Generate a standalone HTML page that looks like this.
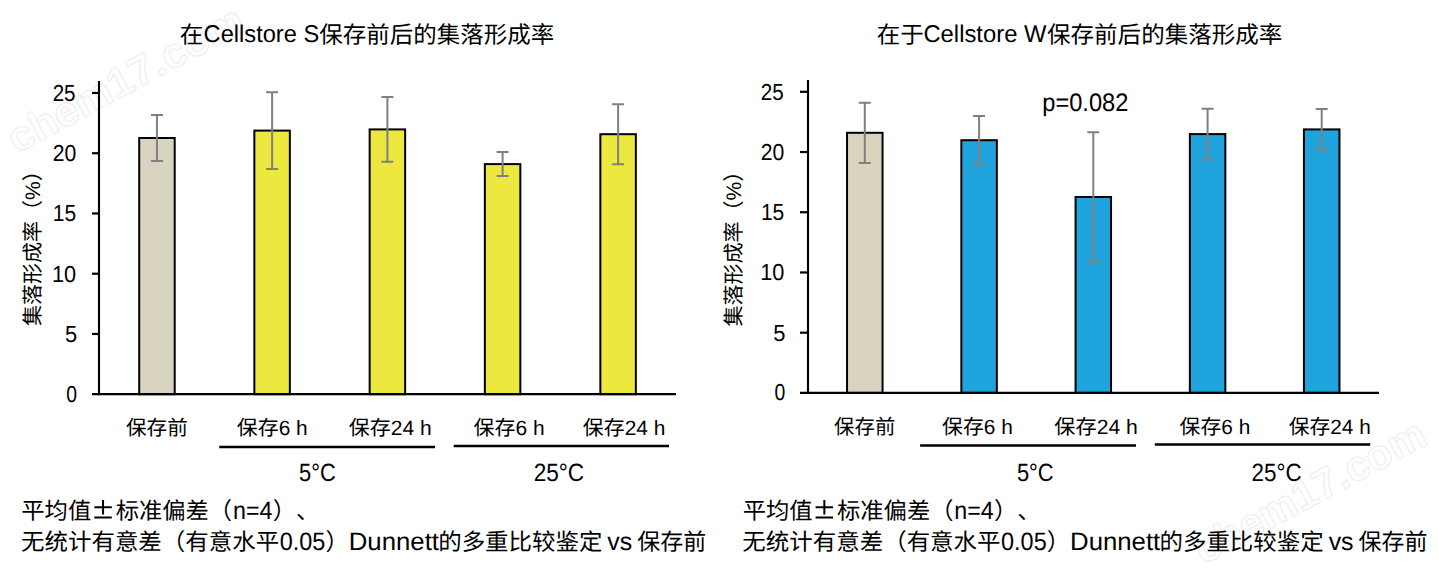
<!DOCTYPE html>
<html lang="zh-CN"><head><meta charset="utf-8"><style>
html,body{margin:0;padding:0;background:#fff;overflow:hidden;}
svg{display:block;}
text{font-family:"Liberation Sans",sans-serif;fill:#000;text-spacing-trim:space-all;font-kerning:none;text-rendering:geometricPrecision;}
.xl{font-size:20.6px;}
.yt{font-size:21px;}
.wm text{font-size:42px;font-weight:bold;fill:none;stroke:#efefef;stroke-width:1.2px;}
</style></head><body>
<svg width="1438" height="571" viewBox="0 0 1438 571">
<rect width="1438" height="571" fill="#fff"/>
<g class="wm">
<text transform="translate(17,154) rotate(-28.4)" textLength="262" lengthAdjust="spacingAndGlyphs">chem17.com</text>
<text transform="translate(1204,565) rotate(-28.4)" textLength="256" lengthAdjust="spacingAndGlyphs">chem17.com</text>
</g>
<rect x="139.20" y="138.00" width="35.50" height="256.20" fill="#d9d4c0" stroke="#000" stroke-width="2"/>
<rect x="254.35" y="130.60" width="35.50" height="263.60" fill="#ece83f" stroke="#000" stroke-width="2"/>
<rect x="369.65" y="129.40" width="35.50" height="264.80" fill="#ece83f" stroke="#000" stroke-width="2"/>
<rect x="484.85" y="164.10" width="35.50" height="230.10" fill="#ece83f" stroke="#000" stroke-width="2"/>
<rect x="600.35" y="134.20" width="35.50" height="260.00" fill="#ece83f" stroke="#000" stroke-width="2"/>
<path d="M156.95 115.10V160.90M150.95 115.10H162.95M150.95 160.90H162.95" stroke="#808080" stroke-width="2" fill="none"/>
<path d="M272.10 92.15V169.05M266.10 92.15H278.10M266.10 169.05H278.10" stroke="#808080" stroke-width="2" fill="none"/>
<path d="M387.40 97.00V161.80M381.40 97.00H393.40M381.40 161.80H393.40" stroke="#808080" stroke-width="2" fill="none"/>
<path d="M502.60 152.10V176.10M496.60 152.10H508.60M496.60 176.10H508.60" stroke="#808080" stroke-width="2" fill="none"/>
<path d="M618.10 104.20V164.20M612.10 104.20H624.10M612.10 164.20H624.10" stroke="#808080" stroke-width="2" fill="none"/>
<path d="M99 81V395.3" stroke="#000" stroke-width="2.1" fill="none"/>
<path d="M92 394.2H676" stroke="#000" stroke-width="2.3" fill="none"/>
<path d="M92 333.96H99" stroke="#000" stroke-width="2.2" fill="none"/>
<path d="M92 273.72H99" stroke="#000" stroke-width="2.2" fill="none"/>
<path d="M92 213.48H99" stroke="#000" stroke-width="2.2" fill="none"/>
<path d="M92 153.24H99" stroke="#000" stroke-width="2.2" fill="none"/>
<path d="M92 93.00H99" stroke="#000" stroke-width="2.2" fill="none"/>
<rect x="847.05" y="132.80" width="35.50" height="260.10" fill="#d9d4c0" stroke="#000" stroke-width="2"/>
<rect x="961.35" y="140.20" width="35.50" height="252.70" fill="#1fa3dc" stroke="#000" stroke-width="2"/>
<rect x="1075.55" y="197.00" width="35.50" height="195.90" fill="#1fa3dc" stroke="#000" stroke-width="2"/>
<rect x="1189.85" y="134.10" width="35.50" height="258.80" fill="#1fa3dc" stroke="#000" stroke-width="2"/>
<rect x="1303.95" y="129.40" width="35.50" height="263.50" fill="#1fa3dc" stroke="#000" stroke-width="2"/>
<path d="M864.80 102.70V162.90M858.80 102.70H870.80M858.80 162.90H870.80" stroke="#808080" stroke-width="2" fill="none"/>
<path d="M979.10 116.10V164.30M973.10 116.10H985.10M973.10 164.30H985.10" stroke="#808080" stroke-width="2" fill="none"/>
<path d="M1093.30 132.30V261.70M1087.30 132.30H1099.30M1087.30 261.70H1099.30" stroke="#808080" stroke-width="2" fill="none"/>
<path d="M1207.60 108.70V159.50M1201.60 108.70H1213.60M1201.60 159.50H1213.60" stroke="#808080" stroke-width="2" fill="none"/>
<path d="M1321.70 109.00V149.80M1315.70 109.00H1327.70M1315.70 149.80H1327.70" stroke="#808080" stroke-width="2" fill="none"/>
<path d="M808 80V394.0" stroke="#000" stroke-width="2.1" fill="none"/>
<path d="M800 392.9H1379" stroke="#000" stroke-width="2.3" fill="none"/>
<path d="M800 332.68H808" stroke="#000" stroke-width="2.2" fill="none"/>
<path d="M800 272.46H808" stroke="#000" stroke-width="2.2" fill="none"/>
<path d="M800 212.24H808" stroke="#000" stroke-width="2.2" fill="none"/>
<path d="M800 152.02H808" stroke="#000" stroke-width="2.2" fill="none"/>
<path d="M800 91.80H808" stroke="#000" stroke-width="2.2" fill="none"/>
<text transform="translate(40,243.1) rotate(-90)" class="yt" text-anchor="middle">集落形成率（%）</text>
<text transform="translate(741,243.6) rotate(-90)" class="yt" text-anchor="middle">集落形成率（%）</text>

<path d="M219.2 447H435M453.7 446H669M920.1 445.6H1136M1154.8 444.6H1370.2" stroke="#000" stroke-width="2.5" fill="none"/>
<path d="M94.3 507.2H111.8M103.05 500V514.6M94.3 517.5H111.8" stroke="#000" stroke-width="2" fill="none"/><path d="M815.6 507.2H833.1M824.35 500V514.6M815.6 517.5H833.1" stroke="#000" stroke-width="2" fill="none"/>
<text x="179.86" y="42.5" font-size="23.5">在</text>
<text x="203.62" y="42.4" font-size="24.2" textLength="115.58" lengthAdjust="spacingAndGlyphs">Cellstore S</text>
<text x="319.3" y="42.5" font-size="23.5" textLength="234.88" lengthAdjust="spacingAndGlyphs">保存前后的集落形成率</text>
<text x="876.86" y="42.5" font-size="23.5">在于</text>
<text x="923.41" y="42.4" font-size="24.2" textLength="123.07" lengthAdjust="spacingAndGlyphs">Cellstore W</text>
<text x="1046.99" y="42.5" font-size="23.5" textLength="235.38" lengthAdjust="spacingAndGlyphs">保存前后的集落形成率</text>
<text x="52.67" y="101" font-size="23.2" textLength="22.9" lengthAdjust="spacingAndGlyphs">25</text>
<text x="52.64" y="161.24" font-size="23.2" textLength="23.56" lengthAdjust="spacingAndGlyphs">20</text>
<text x="52.72" y="221.48" font-size="23.2" textLength="23.37" lengthAdjust="spacingAndGlyphs">15</text>
<text x="51.96" y="281.72" font-size="23.2" textLength="24.16" lengthAdjust="spacingAndGlyphs">10</text>
<text x="65.02" y="341.96" font-size="23.2" textLength="12.19" lengthAdjust="spacingAndGlyphs">5</text>
<text x="66.22" y="402.2" font-size="23.2" textLength="10.78" lengthAdjust="spacingAndGlyphs">0</text>
<text x="760.87" y="99.8" font-size="23.2" textLength="22.9" lengthAdjust="spacingAndGlyphs">25</text>
<text x="760.84" y="160.02" font-size="23.2" textLength="23.56" lengthAdjust="spacingAndGlyphs">20</text>
<text x="760.92" y="220.24" font-size="23.2" textLength="23.37" lengthAdjust="spacingAndGlyphs">15</text>
<text x="760.16" y="280.46" font-size="23.2" textLength="24.16" lengthAdjust="spacingAndGlyphs">10</text>
<text x="773.22" y="340.68" font-size="23.2" textLength="12.19" lengthAdjust="spacingAndGlyphs">5</text>
<text x="774.43" y="399.7" font-size="23.2" textLength="10.78" lengthAdjust="spacingAndGlyphs">0</text>
<text x="1042.28" y="110.9" font-size="25.3" textLength="86.06" lengthAdjust="spacingAndGlyphs">p=0.082</text>
<text x="299.02" y="480.6" font-size="25.0" textLength="36.71" lengthAdjust="spacingAndGlyphs">5°C</text>
<text x="533.67" y="480.6" font-size="25.0" textLength="50.53" lengthAdjust="spacingAndGlyphs">25°C</text>
<text x="1016.92" y="480.6" font-size="25.0" textLength="36.71" lengthAdjust="spacingAndGlyphs">5°C</text>
<text x="1251.48" y="480.6" font-size="25.0" textLength="50.12" lengthAdjust="spacingAndGlyphs">25°C</text>
<text x="125.98" y="435" font-size="20.6" textLength="61.85" lengthAdjust="spacingAndGlyphs">保存前</text>
<text x="236.87" y="435" font-size="20.6" textLength="70.89" lengthAdjust="spacingAndGlyphs">保存6 h</text>
<text x="348.77" y="435" font-size="20.6" textLength="82.93" lengthAdjust="spacingAndGlyphs">保存24 h</text>
<text x="473.57" y="435" font-size="20.6" textLength="71.19" lengthAdjust="spacingAndGlyphs">保存6 h</text>
<text x="582.87" y="435" font-size="20.6" textLength="82.52" lengthAdjust="spacingAndGlyphs">保存24 h</text>
<text x="834.09" y="434" font-size="20.6" textLength="61.23" lengthAdjust="spacingAndGlyphs">保存前</text>
<text x="942.07" y="434" font-size="20.6" textLength="70.78" lengthAdjust="spacingAndGlyphs">保存6 h</text>
<text x="1054.36" y="434" font-size="20.6" textLength="83.54" lengthAdjust="spacingAndGlyphs">保存24 h</text>
<text x="1179.57" y="434" font-size="20.6" textLength="70.68" lengthAdjust="spacingAndGlyphs">保存6 h</text>
<text x="1288.68" y="434" font-size="20.6" textLength="82.11" lengthAdjust="spacingAndGlyphs">保存24 h</text>
<text x="21.34" y="519.1" font-size="23.3">平均值</text>
<text x="115.7" y="519.1" font-size="23.3">标准偏差（</text>
<text x="232.97" y="519.1" font-size="25.2" textLength="39.44" lengthAdjust="spacingAndGlyphs">n=4</text>
<text x="272.73" y="519.1" font-size="23.3">）、</text>
<text x="20.96" y="549.7" font-size="23.3" textLength="258.31" lengthAdjust="spacingAndGlyphs">无统计有意差（有意水平</text>
<text x="279.76" y="549.7" font-size="25.2" textLength="45.63" lengthAdjust="spacingAndGlyphs">0.05</text>
<text x="325.53" y="549.7" font-size="23.3">）</text>
<text x="348.74" y="549.7" font-size="25.2" textLength="90.23" lengthAdjust="spacingAndGlyphs">Dunnett</text>
<text x="438.19" y="549.7" font-size="23.3" textLength="164.15" lengthAdjust="spacingAndGlyphs">的多重比较鉴定</text>
<text x="607.35" y="549.7" font-size="25.2" textLength="24.95" lengthAdjust="spacingAndGlyphs">vs</text>
<text x="637.21" y="549.7" font-size="23.3" textLength="68.94" lengthAdjust="spacingAndGlyphs">保存前</text>
<text x="742.63" y="519.1" font-size="23.3">平均值</text>
<text x="837" y="519.1" font-size="23.3">标准偏差（</text>
<text x="954.27" y="519.1" font-size="25.2" textLength="39.44" lengthAdjust="spacingAndGlyphs">n=4</text>
<text x="994.03" y="519.1" font-size="23.3">）、</text>
<text x="742.26" y="549.7" font-size="23.3" textLength="258.31" lengthAdjust="spacingAndGlyphs">无统计有意差（有意水平</text>
<text x="1001.06" y="549.7" font-size="25.2" textLength="45.63" lengthAdjust="spacingAndGlyphs">0.05</text>
<text x="1046.84" y="549.7" font-size="23.3">）</text>
<text x="1070.04" y="549.7" font-size="25.2" textLength="90.23" lengthAdjust="spacingAndGlyphs">Dunnett</text>
<text x="1159.49" y="549.7" font-size="23.3" textLength="164.15" lengthAdjust="spacingAndGlyphs">的多重比较鉴定</text>
<text x="1328.65" y="549.7" font-size="25.2" textLength="24.95" lengthAdjust="spacingAndGlyphs">vs</text>
<text x="1358.51" y="549.7" font-size="23.3" textLength="68.94" lengthAdjust="spacingAndGlyphs">保存前</text>
</svg>
</body></html>
